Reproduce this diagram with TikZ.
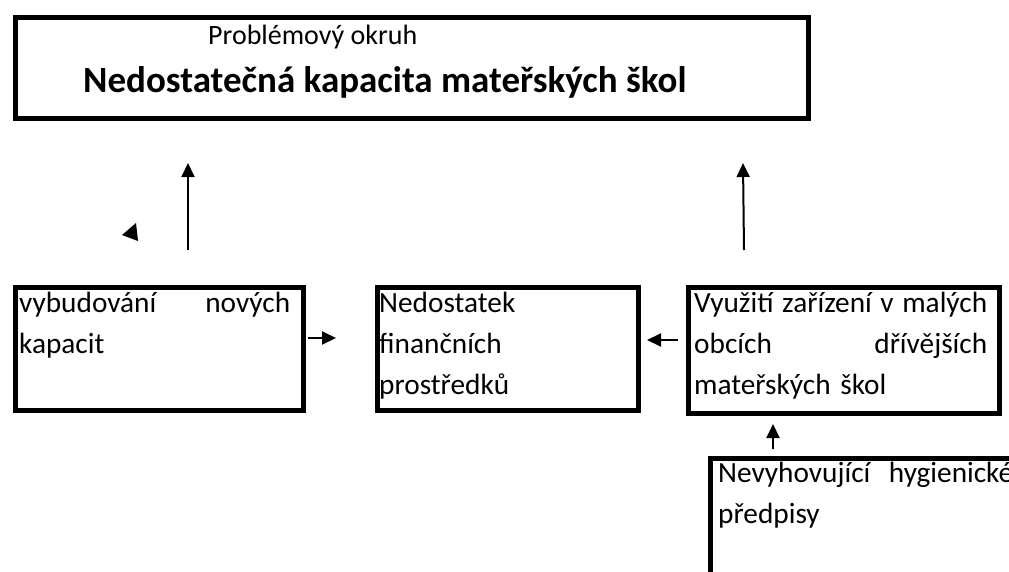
\documentclass[tikz,border=0pt]{standalone}
\usepackage{fontspec}
\setmainfont{Carlito}
\usetikzlibrary{arrows.meta}
\tikzset{
  box/.style={draw, line width=5pt, rectangle, inner sep=0pt, anchor=north west},
  txt/.style={anchor=base west, inner sep=0pt, align=left, font=\fontsize{29.3}{41}\selectfont},
  arr/.style={line width=2pt, -{Triangle[length=14pt,width=13pt]}},
}
\begin{document}
\begin{tikzpicture}[x=1pt,y=-1pt]
\useasboundingbox (0,0) rectangle (1009,571);
\clip (0,0) rectangle (1009,571);
% top box
\node[box, minimum width=793pt, minimum height=101pt] (top) at (12.5,14.5) {};
\node[anchor=base west, inner sep=0pt, font=\fontsize{28}{30}\selectfont] (sub) at (208,44) {Problémový okruh};
\node[anchor=base west, inner sep=0pt, font=\fontsize{37}{40}\selectfont\bfseries] (title) at (83,92) {Nedostatečná kapacita mateřských škol};
% boxes
\node[box, minimum width=288pt, minimum height=123.5pt] (b1) at (12.5,284.5) {};
\node[box, minimum width=261pt, minimum height=123pt] (b2) at (374.5,284.5) {};
\node[box, minimum width=311pt, minimum height=126pt] (b3) at (685.5,284.5) {};
\node[box, minimum width=330pt, minimum height=140pt] (b4) at (708,456) {};
\node[txt, text width=271pt] (t1) at (19,312) {vybudování\hfill nových\\kapacit};
\node[txt, text width=250pt] (t2) at (379,312) {Nedostatek\\finančních\\prostředků};
\node[txt, text width=293pt] (t3) at (694,312) {Využití\hfill zařízení\hfill v\hfill malých\\obcích\hfill dřívějších\\mateřských škol};
\node[txt, text width=295pt] (t4) at (718,482) {Nevyhovující\hfill hygienické\\předpisy};
% arrows
\coordinate (u1s) at (188,250); \coordinate (u1e) at (188,163);
\coordinate (u2s) at (744,250); \coordinate (u2e) at (743,163);
\coordinate (h1s) at (308,338); \coordinate (h1e) at (336,338);
\coordinate (h2s) at (678,340); \coordinate (h2e) at (647,340);
\coordinate (v1s) at (773,449); \coordinate (v1e) at (773,424);
\draw[arr] (u1s) -- (u1e);
\draw[arr] (u2s) -- (u2e);
\draw[arr] (h1s) -- (h1e);
\draw[arr] (h2s) -- (h2e);
\draw[arr] (v1s) -- (v1e);
\fill (122,235) -- (136,223) -- (138,241) -- cycle;
\end{tikzpicture}
\end{document}
